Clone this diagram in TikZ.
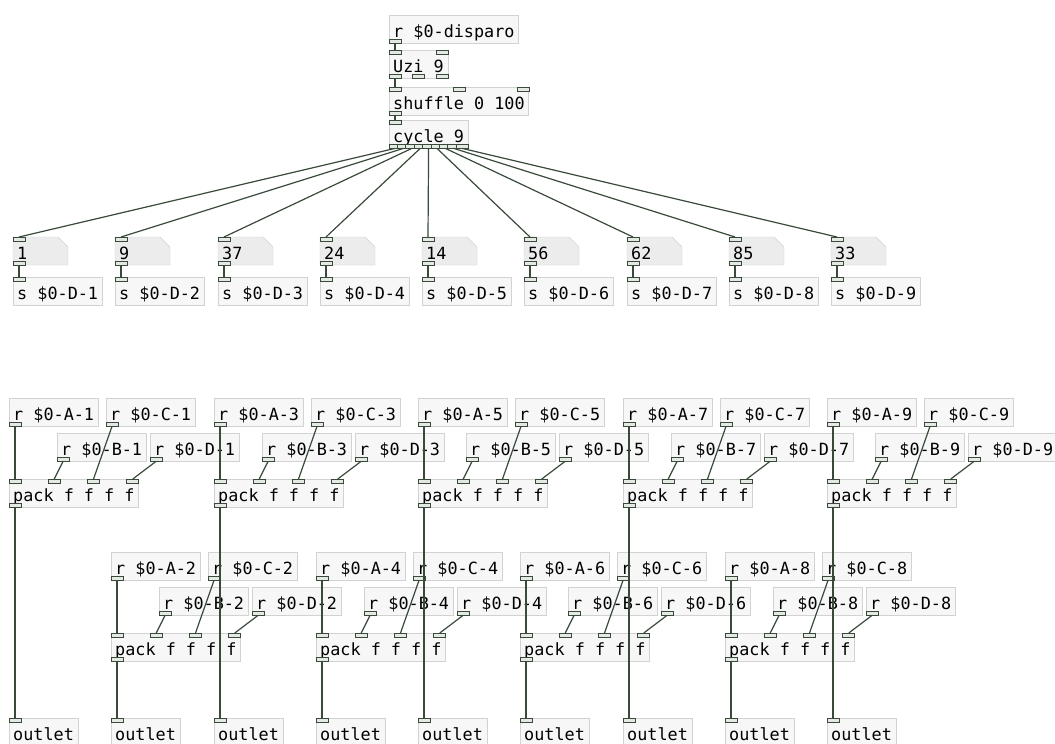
\documentclass[tikz,border=0pt]{standalone}
\usepackage{fontspec}
\setmonofont{DejaVu Sans Mono}
\usetikzlibrary{calc}
\definecolor{boxline}{HTML}{D2D2D2}
\definecolor{boxfill}{HTML}{F7F7F7}
\definecolor{numfill}{HTML}{ECECEC}
\definecolor{wirec}{HTML}{3A4A3A}
\definecolor{portfill}{HTML}{E4E9E4}
\tikzset{
  pdbox/.style={draw=boxline,fill=boxfill,anchor=north west,
    font=\ttfamily\fontsize{16.8}{17}\selectfont,inner xsep=4pt,inner ysep=0pt,
    minimum height=28pt,text height=16pt,text depth=0pt},
  numbox/.style={pdbox,draw=none,fill=none,text width=47pt,align=left},
  port/.style={draw=wirec,fill=portfill,line width=0.7pt},
  wire/.style={draw=wirec,line width=1.2pt}
}
% inlets and outlets of a box: name, count
\newcommand{\pdin}[2]{\foreach \k in {1,...,#2}{%
  \pgfmathsetmacro\pf{(\k-1)/max(#2-1,1)}%
  \draw[port] ($(#1.north west)!\pf!([xshift=-12pt]#1.north east)$) rectangle ++(12pt,-4pt);}}
\newcommand{\pdout}[2]{\foreach \k in {1,...,#2}{%
  \pgfmathsetmacro\pf{(\k-1)/max(#2-1,1)}%
  \draw[port] ($(#1.south west)!\pf!([xshift=-12pt]#1.south east)$) rectangle ++(12pt,4pt);}}
% connection: from box, outlet position, to box, inlet position
\newcommand{\pdwire}[4]{\draw[wire]
  ($(#1.south west)!#2!([xshift=-12pt]#1.south east)+(6pt,0pt)$) --
  ($(#3.north west)!#4!([xshift=-12pt]#3.north east)+(6pt,0pt)$);}

\begin{document}
\begin{tikzpicture}[x=1pt,y=-1pt]
  \fill[white] (0,0) rectangle (1055,744);
  \useasboundingbox (0,0) rectangle (1055,744);
  % trigger chain
  \node[pdbox] (disp) at (389,15) {r \$0-disparo};
  \node[pdbox] (uzi) at (389,50) {Uzi 9};
  \node[pdbox] (shuf) at (389,87) {shuffle 0 100};
  \node[pdbox] (cyc) at (389,120) {cycle 9};
  \pdout{disp}{1} \pdin{uzi}{2} \pdout{uzi}{3}
  \pdin{shuf}{3} \pdout{shuf}{1} \pdin{cyc}{1} \pdout{cyc}{9}
  \pdwire{disp}{0}{uzi}{0}
  \pdwire{uzi}{0}{shuf}{0}
  \pdwire{shuf}{0}{cyc}{0}
  % number boxes and senders
  \foreach \v [count=\i, evaluate=\i as \xn using {round(13+(\i-1)*102.25)},
      evaluate=\i as \fc using {(\i-1)/8}] in {1,9,37,24,14,56,62,85,33}{
    \filldraw[draw=boxline,fill=numfill] (\xn,237) -- ++(45,0) -- ++(10,10)
      -- ++(0,18) -- ++(-55,0) -- cycle;
    \node[numbox] (n\i) at (\xn,237) {\v};
    \node[pdbox] (s\i) at (\xn,277) {s \$0-D-\i};
    \pdin{n\i}{1} \pdout{n\i}{1} \pdin{s\i}{1}
    \pdwire{cyc}{\fc}{n\i}{0}
    \pdwire{n\i}{0}{s\i}{0}
  }
  % receive groups into pack
  \foreach \i [evaluate=\i as \xa using {round(9+(\i-1)*102.25)},
      evaluate=\i as \ya using {552-154*mod(\i,2)}] in {1,...,9}{
    \node[pdbox] (A\i) at (\xa,\ya) {r \$0-A-\i};
    \node[pdbox] (C\i) at (\xa+97,\ya) {r \$0-C-\i};
    \node[pdbox] (B\i) at (\xa+48,\ya+35) {r \$0-B-\i};
    \node[pdbox] (D\i) at (\xa+141,\ya+35) {r \$0-D-\i};
    \node[pdbox] (P\i) at (\xa,\ya+81) {pack f f f f};
    \node[pdbox] (O\i) at (\xa,718) {outlet};
    \pdout{A\i}{1} \pdout{B\i}{1} \pdout{C\i}{1} \pdout{D\i}{1}
    \pdin{P\i}{4} \pdout{P\i}{1} \pdin{O\i}{1}
    \pdwire{A\i}{0}{P\i}{0}
    \pdwire{B\i}{0}{P\i}{0.3333}
    \pdwire{C\i}{0}{P\i}{0.6667}
    \pdwire{D\i}{0}{P\i}{1}
    \pdwire{P\i}{0}{O\i}{0}
  }
\end{tikzpicture}
\end{document}
